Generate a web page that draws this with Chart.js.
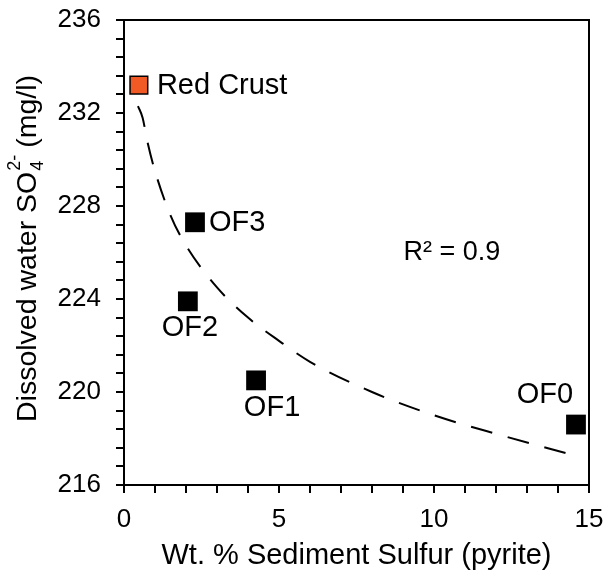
<!DOCTYPE html>
<html>
<head>
<meta charset="utf-8">
<script src="https://cdn.jsdelivr.net/npm/chart.js@4"></script>
<style>
  html, body { margin: 0; padding: 0; background: #fff; }
  #wrap { width: 609px; height: 573px; }
</style>
</head>
<body>
<div id="wrap"><canvas id="c" width="609" height="573"></canvas></div>
<script>
// ---- data ----
const sampleNames = ["Red Crust", "OF3", "OF2", "OF1", "OF0"];
const sulfurPct   = [0.48, 2.29, 2.06, 4.26, 14.58];
const sulfateMgL  = [233.2, 227.3, 223.9, 220.5, 218.6];
const trendX = [0.45, 0.6, 0.75, 1, 1.5, 2, 3, 4, 5, 6, 8, 10, 12, 14.6];
const trendY = [232.3, 231.8, 230.8, 229.5, 227.6, 226.3, 224.5, 223.2, 222.2, 221.3, 220.0, 219.0, 218.2, 217.25];
const xTickLabels = [0, 5, 10, 15];
const yTickLabels = [216, 220, 224, 228, 232, 236];
const rSquaredText = "R² = 0.9";

const FONT = "'Liberation Sans', Arial, sans-serif";

const pointData = sulfurPct.map((x, i) => ({ x, y: sulfateMgL[i] }));
const trendData = trendX.map((x, i) => ({ x, y: trendY[i] }));

function zeroPad(s) {
  s.paddingTop = 0; s.paddingBottom = 0; s.paddingLeft = 0; s.paddingRight = 0;
}

const frameAndLabels = {
  id: 'frameAndLabels',
  afterDraw(chart) {
    const ctx = chart.ctx;
    const a = chart.chartArea;
    const xs = chart.scales.x, ys = chart.scales.y;
    ctx.save();
    // frame
    ctx.strokeStyle = '#000';
    ctx.lineWidth = 2;
    ctx.strokeRect(a.left, a.top, a.right - a.left, a.bottom - a.top);
    // point labels
    ctx.fillStyle = '#000';
    ctx.font = "29px " + FONT;
    const meta = chart.getDatasetMeta(1);
    meta.data.forEach((el, i) => {
      const name = sampleNames[i];
      const px = el.x, py = el.y;
      if (i === 0 || i === 1) {
        ctx.textAlign = 'left'; ctx.textBaseline = 'middle';
        ctx.fillText(name, px + (i === 0 ? 18 : 14), py + 1);
      } else if (i === 2) {
        ctx.textAlign = 'center'; ctx.textBaseline = 'top';
        ctx.fillText(name, px + 2, py + 12);
      } else if (i === 3) {
        ctx.textAlign = 'center'; ctx.textBaseline = 'top';
        ctx.fillText(name, px + 16, py + 13);
      } else {
        ctx.textAlign = 'center'; ctx.textBaseline = 'bottom';
        ctx.fillText(name, px - 31, py - 15);
      }
    });
    // R squared
    ctx.font = "27px " + FONT;
    ctx.textAlign = 'center'; ctx.textBaseline = 'middle';
    ctx.fillText(rSquaredText, xs.getPixelForValue(10.58), ys.getPixelForValue(226.0));
    // y axis title with sub/superscript
    ctx.translate(28, (a.top + a.bottom) / 2 - 4);
    ctx.rotate(-Math.PI / 2);
    ctx.textBaseline = 'middle';
    ctx.textAlign = 'left';
    const big = "28.5px " + FONT, small = "18px " + FONT;
    const p1 = "Dissolved water SO", p3 = " (mg/l)";
    ctx.font = big; const w1 = ctx.measureText(p1).width;
    ctx.font = small; const wSub = ctx.measureText("4").width, wSup = ctx.measureText("2-").width;
    const wMid = Math.max(wSub, wSup);
    ctx.font = big; const w3 = ctx.measureText(p3).width;
    let x0 = -(w1 + wMid + w3) / 2;
    ctx.font = big; ctx.fillText(p1, x0, 0);
    ctx.font = small;
    ctx.fillText("4", x0 + w1 + 1, 10);
    ctx.fillText("2-", x0 + w1 + 1, -13);
    ctx.font = big; ctx.fillText(p3, x0 + w1 + wMid, 0);
    ctx.restore();
  }
};

new Chart(document.getElementById('c'), {
  type: 'scatter',
  data: {
    datasets: [
      {
        type: 'line',
        data: trendData,
        borderColor: '#000',
        borderWidth: 2,
        borderDash: [22, 16],
        pointRadius: 0,
        tension: 0.4,
        cubicInterpolationMode: 'monotone',
        fill: false
      },
      {
        data: pointData,
        pointStyle: 'rect',
        pointRadius: [12.5, 14, 14, 14, 14],
        pointBackgroundColor: ['#F15A24', '#000', '#000', '#000', '#000'],
        pointBorderColor: '#000',
        pointBorderWidth: [1.5, 0, 0, 0, 0],
        showLine: false
      }
    ]
  },
  options: {
    responsive: false,
    animation: false,
    events: [],
    layout: { padding: { top: 20, right: 20, left: 0, bottom: 0 } },
    plugins: { legend: { display: false }, tooltip: { enabled: false } },
    scales: {
      x: {
        type: 'linear',
        min: 0, max: 15,
        afterFit(s) { s.height = 88; zeroPad(s); },
        afterBuildTicks(s) {
          const t = [];
          for (let v = 0; v <= 15; v++) t.push({ value: v });
          s.ticks = t;
        },
        ticks: {
          autoSkip: false,
          maxRotation: 0,
          color: '#000',
          font: { family: FONT, size: 26 },
          padding: 11,
          callback: (v) => xTickLabels.includes(v) ? String(v) : ''
        },
        grid: { drawOnChartArea: false, drawTicks: true, tickLength: 8, color: '#000', lineWidth: 2 },
        border: { display: true, color: '#000', width: 2 },
        title: {
          display: true,
          text: 'Wt. % Sediment Sulfur (pyrite)',
          color: '#000',
          font: { family: FONT, size: 29 },
          padding: { top: 0, bottom: 0 }
        }
      },
      y: {
        type: 'linear',
        min: 216, max: 236,
        afterFit(s) { s.width = 124; zeroPad(s); },
        afterBuildTicks(s) {
          const t = [];
          for (let i = 0; i <= 25; i++) t.push({ value: Math.round((216 + 0.8 * i) * 10) / 10 });
          s.ticks = t;
        },
        ticks: {
          autoSkip: false,
          color: '#000',
          font: { family: FONT, size: 26 },
          padding: 15,
          callback: (v) => yTickLabels.includes(v) ? String(v) : ''
        },
        grid: { drawOnChartArea: false, drawTicks: true, tickLength: 8, color: '#000', lineWidth: 2 },
        border: { display: true, color: '#000', width: 2 }
      }
    }
  },
  plugins: [frameAndLabels]
});
</script>
</body>
</html>
